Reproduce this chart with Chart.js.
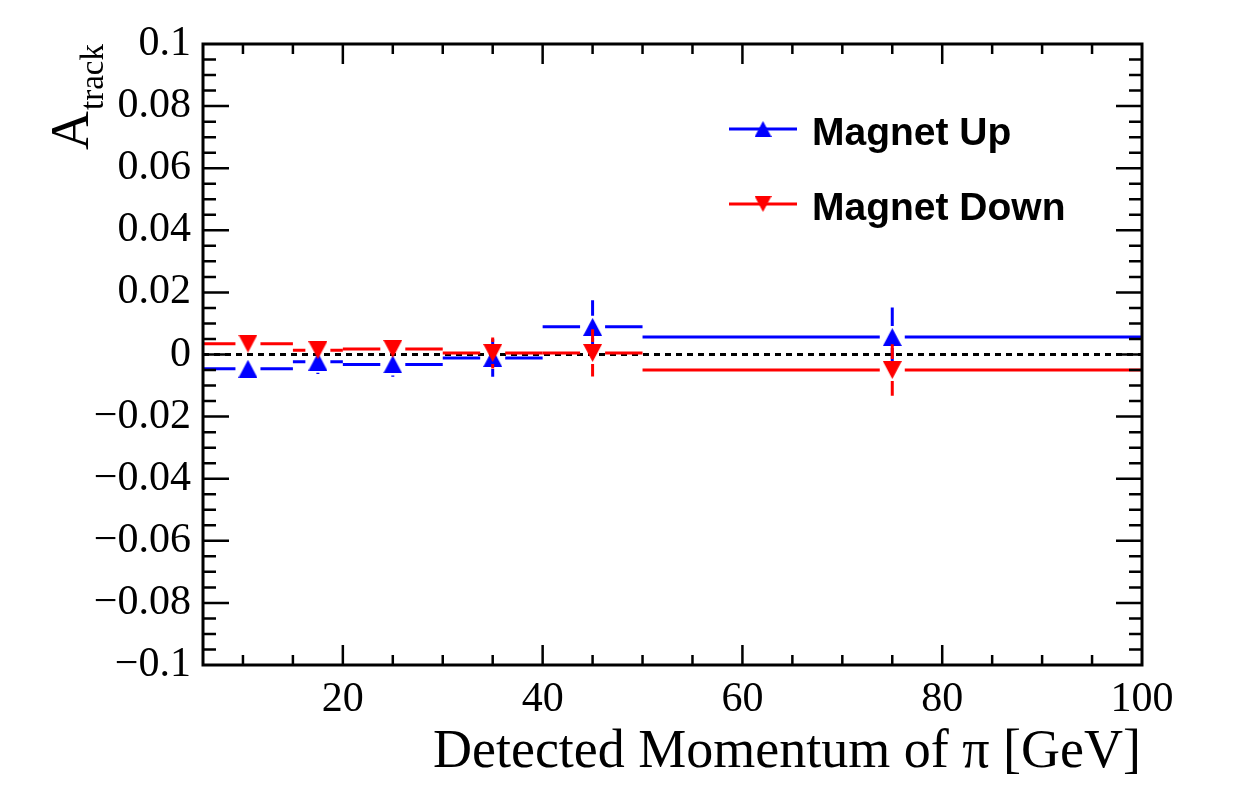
<!DOCTYPE html>
<html>
<head>
<meta charset="utf-8">
<script src="https://cdn.jsdelivr.net/npm/chart.js@4.4.1/dist/chart.umd.min.js"></script>
<style>
  html, body { margin: 0; padding: 0; background: #ffffff; }
  #wrap { width: 1239px; height: 785px; }
</style>
</head>
<body>
<div id="wrap"><canvas id="chart" width="1239" height="785"></canvas></div>
<script>
// momentum bins [GeV]
const binLow = [6, 15, 20, 30, 40, 50];
const binHigh = [15, 20, 30, 40, 50, 100];
const binCenter = [10.5, 17.5, 25, 35, 45, 75];

// A_track, magnet up
const upValues = [-0.0046, -0.0023, -0.0032, -0.0011, 0.0089, 0.0056];
const upErrors = [0.0025, 0.0040, 0.0040, 0.0061, 0.0086, 0.0095];

// A_track, magnet down
const downValues = [0.0035, 0.0014, 0.0018, 0.0005, 0.0005, -0.0050];
const downErrors = [0.0025, 0.0030, 0.0033, 0.0050, 0.0076, 0.0083];

const xTicks = [20, 40, 60, 80, 100];
const yTicks = [-0.1, -0.08, -0.06, -0.04, -0.02, 0, 0.02, 0.04, 0.06, 0.08, 0.1];

const serif = "'Liberation Serif', 'DejaVu Serif', serif";
const sans = "'Liberation Sans', Arial, sans-serif";

function triangle(w, h, color, down) {
  const c = document.createElement('canvas');
  c.width = w; c.height = h;
  const g = c.getContext('2d');
  g.fillStyle = color;
  g.beginPath();
  if (down) { g.moveTo(0, 0); g.lineTo(w, 0); g.lineTo(w / 2, h); }
  else { g.moveTo(0, h); g.lineTo(w, h); g.lineTo(w / 2, 0); }
  g.closePath();
  g.fill();
  return c;
}

function makeSet(label, color, values, errors, down, order) {
  return {
    label: label,
    data: binCenter.map((x, i) => ({ x: x, y: values[i] })),
    xLow: binLow,
    xHigh: binHigh,
    yErr: errors,
    color: color,
    down: down,
    order: order,
    showLine: false,
    pointStyle: triangle(19, 18, color, down),
    legendMarker: triangle(17, 16, color, down),
    borderColor: color,
    backgroundColor: color
  };
}

// ROOT style error bars, with a gap round the marker
const errorBars = {
  id: 'errorBars',
  beforeDatasetDraw(chart, args) {
    const ds = chart.data.datasets[args.index];
    const xs = chart.scales.x, ys = chart.scales.y;
    const ctx = chart.ctx;
    const gapX = 9.5 + 3, gapY = 9 + 2;
    ctx.save();
    ctx.strokeStyle = ds.color;
    ctx.lineWidth = 3;
    ds.data.forEach((p, i) => {
      const px = xs.getPixelForValue(p.x);
      const py = ys.getPixelForValue(p.y);
      const l = xs.getPixelForValue(ds.xLow[i]);
      const r = xs.getPixelForValue(ds.xHigh[i]);
      const t = ys.getPixelForValue(p.y + ds.yErr[i]);
      const b = ys.getPixelForValue(p.y - ds.yErr[i]);
      ctx.beginPath();
      ctx.moveTo(l, py); ctx.lineTo(px - gapX, py);
      ctx.moveTo(px + gapX, py); ctx.lineTo(r, py);
      if (py - t > gapY) {
        ctx.moveTo(px, t); ctx.lineTo(px, py - gapY);
        ctx.moveTo(px, py + gapY); ctx.lineTo(px, b);
      }
      ctx.stroke();
    });
    ctx.restore();
  }
};

const rootFrame = {
  id: 'rootFrame',
  beforeDatasetsDraw(chart) {
    // dashed line at zero
    const a = chart.chartArea, ctx = chart.ctx;
    const y0 = chart.scales.y.getPixelForValue(0);
    ctx.save();
    ctx.strokeStyle = '#000';
    ctx.lineWidth = 3;
    ctx.setLineDash([6, 5]);
    ctx.beginPath();
    ctx.moveTo(a.left, y0); ctx.lineTo(a.right, y0);
    ctx.stroke();
    ctx.restore();
  },
  afterDraw(chart) {
    const a = chart.chartArea, ctx = chart.ctx;
    const xs = chart.scales.x, ys = chart.scales.y;
    ctx.save();
    ctx.strokeStyle = '#000';
    ctx.lineWidth = 3;
    ctx.strokeRect(a.left, a.top, a.right - a.left, a.bottom - a.top);

    ctx.lineWidth = 2.5;
    ctx.beginPath();
    // x ticks, bottom and top
    for (let v = 10; v < 100; v += 5) {
      const px = xs.getPixelForValue(v);
      const len = xTicks.includes(v) ? 20 : 10;
      ctx.moveTo(px, a.bottom); ctx.lineTo(px, a.bottom - len);
      ctx.moveTo(px, a.top); ctx.lineTo(px, a.top + len);
    }
    // y ticks, left and right
    for (let k = -19; k <= 19; k++) {
      const v = k * 0.005;
      const py = ys.getPixelForValue(v);
      const len = (k % 4 === 0) ? 26 : 13;
      ctx.moveTo(a.left, py); ctx.lineTo(a.left + len, py);
      ctx.moveTo(a.right, py); ctx.lineTo(a.right - len, py);
    }
    ctx.stroke();

    // axis titles
    ctx.fillStyle = '#000';
    ctx.font = '54px ' + serif;
    ctx.textAlign = 'right';
    ctx.textBaseline = 'alphabetic';
    ctx.fillText('Detected Momentum of \u03c0 [GeV]', a.right - 1, 767);

    ctx.save();
    ctx.translate(88, 150);
    ctx.rotate(-Math.PI / 2);
    ctx.textAlign = 'left';
    ctx.font = '54px ' + serif;
    ctx.fillText('A', 0, 0);
    const wA = ctx.measureText('A').width;
    ctx.font = '33px ' + serif;
    ctx.fillText('track', wA + 1, 15);
    ctx.restore();

    // legend
    const rows = [129, 204];
    chart.data.datasets.forEach((ds, i) => {
      const y = rows[i];
      ctx.strokeStyle = ds.color;
      ctx.lineWidth = 3;
      ctx.beginPath();
      ctx.moveTo(729, y); ctx.lineTo(797, y);
      ctx.stroke();
      const m = ds.legendMarker;
      ctx.drawImage(m, 763 - m.width / 2, y - m.height / 2);
      ctx.fillStyle = '#000';
      ctx.font = 'bold 39px ' + sans;
      ctx.textAlign = 'left';
      ctx.fillText(ds.label, 812, y + 16);
    });
    ctx.restore();
  }
};

const ctx = document.getElementById('chart').getContext('2d');
new Chart(ctx, {
  type: 'scatter',
  data: {
    datasets: [
      makeSet('Magnet Up', '#0000ff', upValues, upErrors, false, 2),
      makeSet('Magnet Down', '#ff0000', downValues, downErrors, true, 1)
    ]
  },
  options: {
    responsive: false,
    animation: false,
    events: [],
    layout: { padding: { left: 0, right: 97, top: 44, bottom: 0 } },
    plugins: {
      legend: { display: false },
      title: { display: false },
      tooltip: { enabled: false }
    },
    scales: {
      x: {
        type: 'linear',
        min: 6,
        max: 100,
        afterFit(s) { s.height = 120; },
        afterBuildTicks(s) { s.ticks = xTicks.map(v => ({ value: v })); },
        grid: { display: false, drawTicks: false },
        border: { display: false },
        ticks: {
          autoSkip: false,
          maxRotation: 0,
          padding: 10,
          color: '#000',
          font: { family: serif, size: 42 },
          callback: v => String(v)
        }
      },
      y: {
        type: 'linear',
        min: -0.1,
        max: 0.1,
        afterFit(s) { s.width = 203; },
        afterBuildTicks(s) { s.ticks = yTicks.map(v => ({ value: v })); },
        grid: { display: false, drawTicks: false },
        border: { display: false },
        ticks: {
          autoSkip: false,
          padding: 12,
          color: '#000',
          font: { family: serif, size: 42 },
          callback: v => {
            const r = Math.round(v * 1000) / 1000;
            if (r === 0) return '0';
            return (r < 0 ? '\u2212' : '') + String(Math.abs(r));
          }
        }
      }
    }
  },
  plugins: [rootFrame, errorBars]
});
</script>
</body>
</html>
